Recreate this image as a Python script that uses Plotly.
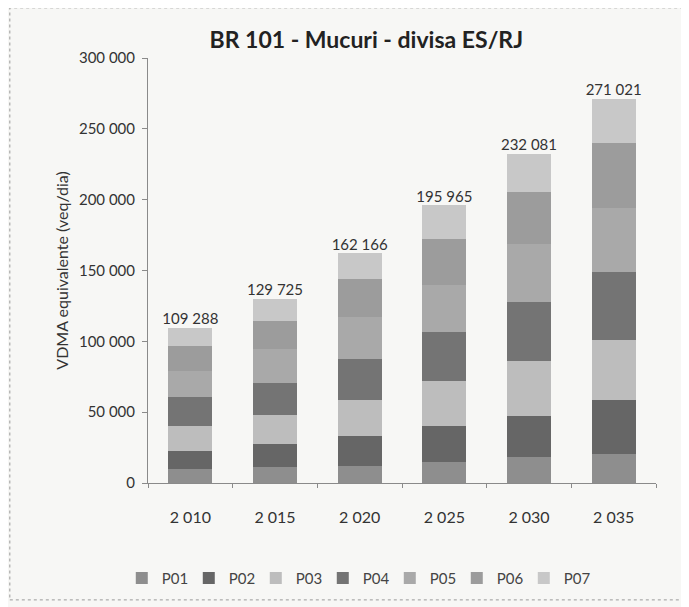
import plotly.graph_objects as go

years = ["2 010", "2 015", "2 020", "2 025", "2 030", "2 035"]
series_names = ["P01", "P02", "P03", "P04", "P05", "P06", "P07"]
P01 = [9900, 11100, 12200, 14600, 18300, 20800]
P02 = [12900, 16400, 21100, 25800, 28900, 37600]
P03 = [17300, 20400, 25500, 31600, 38800, 42600]
P04 = [20800, 23000, 28900, 34300, 41700, 48000]
P05 = [18200, 23500, 29200, 33800, 41300, 44800]
P06 = [17700, 19900, 26800, 32400, 36200, 46200]
P07 = [12488, 15425, 18466, 23465, 26881, 31021]
totals = [109288, 129725, 162166, 195965, 232081, 271021]
total_labels = ["109 288", "129 725", "162 166", "195 965", "232 081", "271 021"]

colors = ["#8e8e8e", "#666666", "#bdbdbd", "#747474", "#a9a9a9", "#9c9c9c", "#c8c8c8"]
series = [P01, P02, P03, P04, P05, P06, P07]

fig = go.Figure()
for name, vals, c in zip(series_names, series, colors):
    fig.add_trace(go.Bar(x=years, y=vals, name=name, marker=dict(color=c, line=dict(width=0))))

fig.add_trace(go.Scatter(
    x=years, y=totals, mode="text", text=total_labels, textposition="top center",
    textfont=dict(size=15, color="#333333"), showlegend=False, hoverinfo="skip"))

fig.update_layout(
    width=689, height=607,
    barmode="stack", bargap=0.48,
    paper_bgcolor="#f7f7f5", plot_bgcolor="#f7f7f5",
    font=dict(family="Lato, Open Sans, sans-serif", color="#333333", size=15),
    separators=". ",
    margin=dict(l=140, r=41, t=50, b=132),
    title=dict(text="<b>BR 101 - Mucuri - divisa ES/RJ</b>", x=0.52, xanchor="center",
               y=0.947, yanchor="middle", font=dict(size=23, color="#222222")),
    xaxis=dict(showline=True, linecolor="#8a8a8a", ticks="outside", tickson="boundaries",
               ticklen=4, tickcolor="#8a8a8a", tickfont=dict(size=16, color="#333333"),
               ticklabelstandoff=20, showgrid=False),
    yaxis=dict(range=[0, 300000], dtick=50000, tickformat=",d", showline=True,
               linecolor="#8a8a8a", ticks="outside", ticklen=5, tickcolor="#8a8a8a",
               showgrid=False, zeroline=False, tickfont=dict(size=15, color="#333333"),
               ticklabelstandoff=4,
               title=dict(text="VDMA equivalente (veq/dia)", font=dict(size=16, color="#333333"),
                          standoff=6)),
    legend=dict(orientation="h", x=0.41, xanchor="center", y=-0.224, yanchor="middle",
                font=dict(size=15, color="#444444"), traceorder="normal",
                itemwidth=30, entrywidth=22, entrywidthmode="pixels", bgcolor="rgba(0,0,0,0)"),
    shapes=[dict(type="rect", xref="paper", yref="paper", x0=-0.272, x1=1.06, y0=-0.275, y1=1.118,
                 line=dict(color="#9a9a9a", width=1, dash="dot"), layer="below")],
)

fig.write_html("out.html")
